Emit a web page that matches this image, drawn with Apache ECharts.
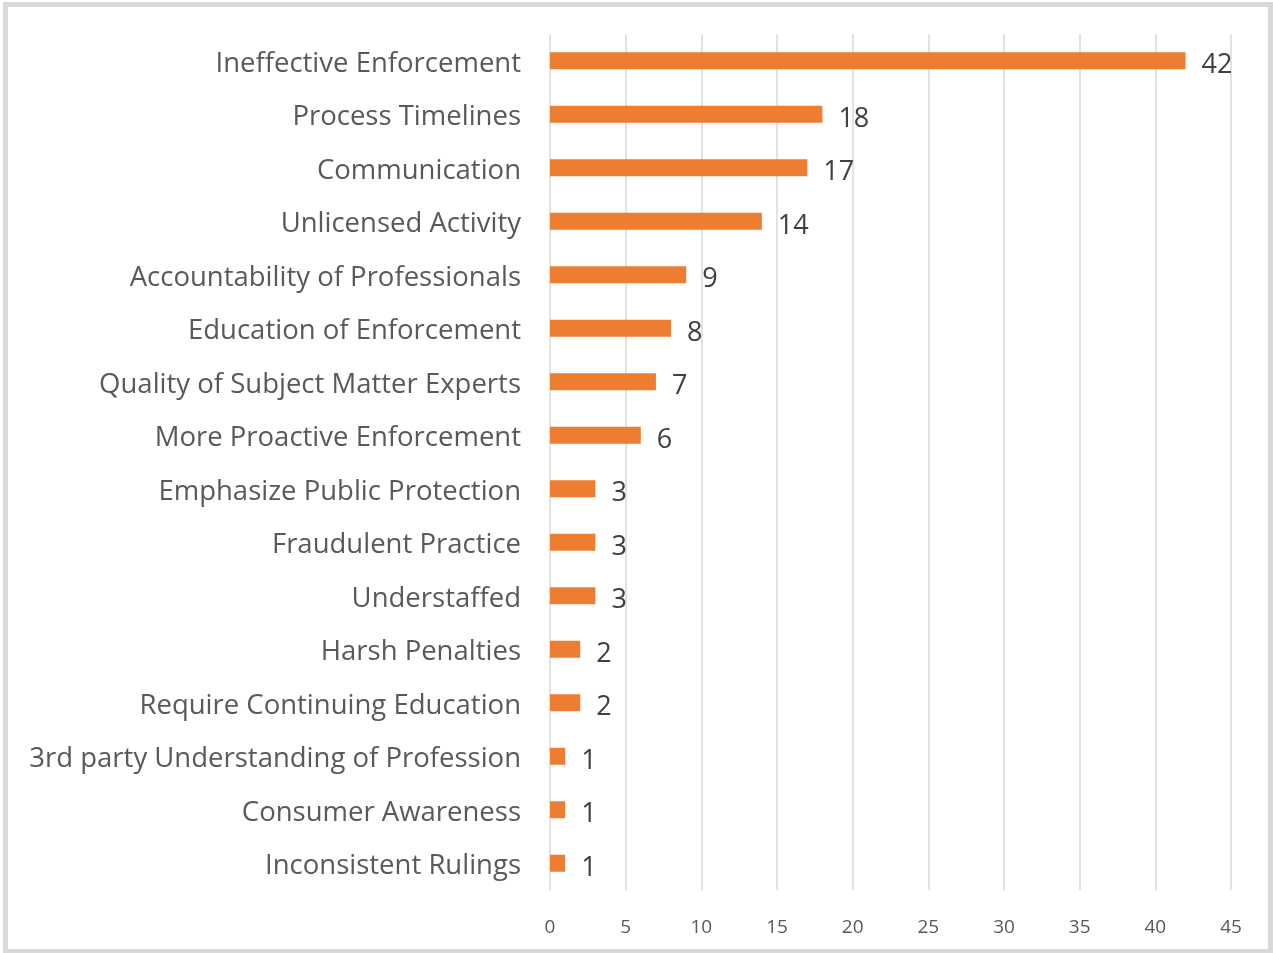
<!DOCTYPE html>
<html>
<head>
<meta charset="utf-8">
<script src="https://cdn.jsdelivr.net/npm/echarts@6/dist/echarts.min.js"></script>
<style>
  html, body { margin: 0; padding: 0; background: #fff; }
  #chart { width: 1273px; height: 953px; }
</style>
</head>
<body>
<div id="chart"></div>
<script>
// Issues raised, listed top to bottom
const categories = [
  'Ineffective Enforcement',
  'Process Timelines',
  'Communication',
  'Unlicensed Activity',
  'Accountability of Professionals',
  'Education of Enforcement',
  'Quality of Subject Matter Experts',
  'More Proactive Enforcement',
  'Emphasize Public Protection',
  'Fraudulent Practice',
  'Understaffed',
  'Harsh Penalties',
  'Require Continuing Education',
  '3rd party Understanding of Profession',
  'Consumer Awareness',
  'Inconsistent Rulings'
];
const counts = [42, 18, 17, 14, 9, 8, 7, 6, 3, 3, 3, 2, 2, 1, 1, 1];
const xTicks = { min: 0, max: 45, interval: 5 };

const FONT = '"Open Sans", "Noto Sans", sans-serif';
const chart = echarts.init(document.getElementById('chart'), null, { renderer: 'canvas' });

chart.setOption({
  backgroundColor: '#ffffff',
  animation: false,
  graphic: [{
    type: 'rect',
    shape: { x: 5.5, y: 4.5, width: 1265, height: 947 },
    style: { fill: 'none', stroke: '#d9d9d9', lineWidth: 5 },
    silent: true
  }],
  grid: { left: 550, right: 42, top: 34, bottom: 63, containLabel: false },
  xAxis: {
    type: 'value',
    min: xTicks.min,
    max: xTicks.max,
    interval: xTicks.interval,
    axisLine: { show: false },
    axisTick: { show: false },
    splitLine: { show: true, lineStyle: { color: '#d9d9d9', width: 1.5 } },
    axisLabel: { color: '#595959', fontSize: 19, fontFamily: FONT, margin: 28 }
  },
  yAxis: {
    type: 'category',
    data: categories,
    inverse: true,
    axisLine: { show: false },
    axisTick: { show: false },
    splitLine: { show: false },
    axisLabel: {
      margin: 29,
      formatter: (v) => '{c|' + v + '}',
      rich: {
        c: {
          color: '#595959', fontSize: 27.5, fontFamily: FONT,
          padding: [6, 0, 0, 0]
        }
      }
    }
  },
  series: [{
    type: 'bar',
    data: counts,
    barWidth: 17,
    itemStyle: { color: '#ED7D31' },
    label: {
      show: true,
      position: 'right',
      distance: 16,
      offset: [0, 5],
      color: '#404040',
      fontSize: 27,
      fontFamily: FONT
    }
  }]
});
</script>
</body>
</html>
